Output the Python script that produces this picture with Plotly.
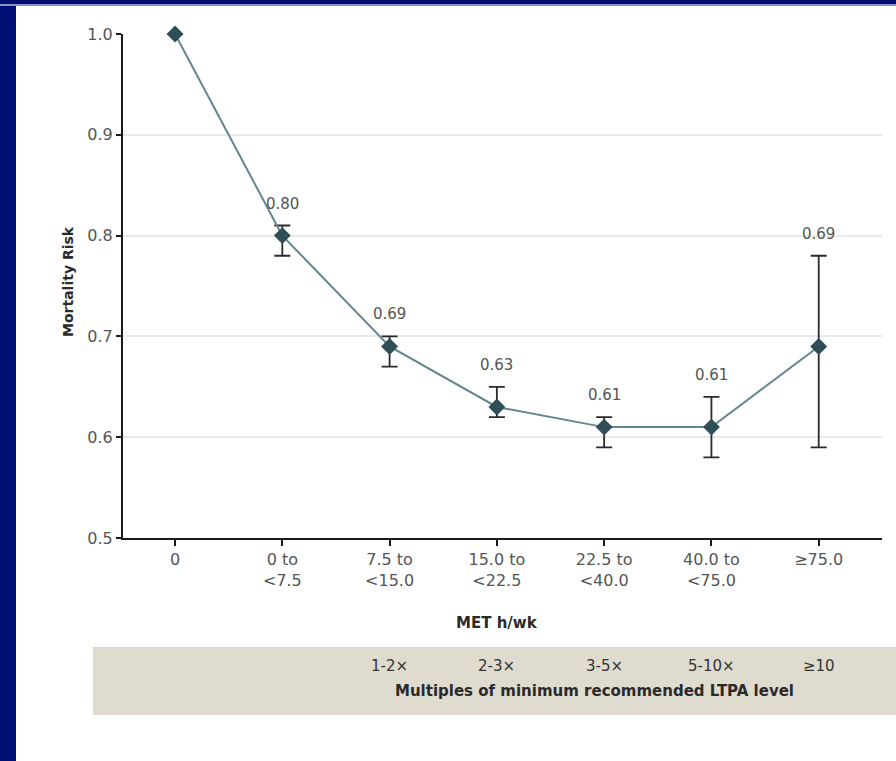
import plotly.graph_objects as go

# Leisure-time physical activity categories (MET h/wk) and relative mortality risk
met_bins = ["0", "0 to<br>&lt;7.5", "7.5 to<br>&lt;15.0", "15.0 to<br>&lt;22.5",
            "22.5 to<br>&lt;40.0", "40.0 to<br>&lt;75.0", "≥75.0"]
risk = [1.00, 0.80, 0.69, 0.63, 0.61, 0.61, 0.69]
ci_upper = [None, 0.81, 0.70, 0.65, 0.62, 0.64, 0.78]
ci_lower = [None, 0.78, 0.67, 0.62, 0.59, 0.58, 0.59]
multiples = ["", "", "1-2×", "2-3×", "3-5×", "5-10×", "≥10"]

W, H = 896, 761
NAVY = "#000f73"
FONT = "DejaVu Sans, Verdana, sans-serif"

err_plus = [None if u is None else round(u - r, 4) for u, r in zip(ci_upper, risk)]
err_minus = [None if l is None else round(r - l, 4) for l, r in zip(ci_lower, risk)]

fig = go.Figure()
fig.add_trace(go.Scatter(
    x=met_bins, y=risk, mode="lines+markers",
    line=dict(color="#638690", width=2),
    marker=dict(symbol="diamond", size=13, color="#2f4e58"),
    error_y=dict(type="data", symmetric=False, array=err_plus, arrayminus=err_minus,
                 color="#2b2b2b", thickness=1.8, width=8),
    cliponaxis=False, showlegend=False,
))

annotations = []
# value labels above each confidence interval
for cat, r, u in zip(met_bins, risk, ci_upper):
    if u is None:
        continue
    annotations.append(dict(x=cat, y=u, xref="x", yref="y", text=f"{r:.2f}",
                            showarrow=False, yshift=22,
                            font=dict(family=FONT, size=15, color="#555555")))

# multiples of the recommended minimum, in the shaded band
for cat, m in zip(met_bins, multiples):
    if not m:
        continue
    annotations.append(dict(x=cat, y=1 - 666 / H, xref="x", yref="paper", text=m,
                            showarrow=False, yanchor="middle",
                            font=dict(family=FONT, size=15, color="#333333")))

annotations += [
    dict(x=594 / W, y=1 - 691 / H, xref="paper", yref="paper", yanchor="middle",
         text="<b>Multiples of minimum recommended LTPA level</b>", showarrow=False,
         font=dict(family=FONT, size=15, color="#2a2a2a")),
    dict(x=497 / W, y=1 - 623 / H, xref="paper", yref="paper", yanchor="middle",
         text="<b>MET h/wk</b>", showarrow=False,
         font=dict(family=FONT, size=15, color="#2a2a2a")),
    dict(x=58 / W, y=1 - 282 / H, xref="paper", yref="paper", yanchor="middle",
         text="<b>Mortality Risk</b>", showarrow=False, textangle=-90,
         font=dict(family=FONT, size=14, color="#2a2a2a")),
]

shapes = [
    # shaded band behind the multiples row
    dict(type="rect", xref="paper", yref="paper", x0=93 / W, x1=1,
         y0=1 - 715 / H, y1=1 - 647 / H, fillcolor="#dfdbcf", line=dict(width=0),
         layer="below"),
    # slide frame
    dict(type="rect", xref="paper", yref="paper", x0=0, x1=16 / W, y0=0, y1=1,
         fillcolor=NAVY, line=dict(width=0)),
    dict(type="rect", xref="paper", yref="paper", x0=0, x1=1, y0=1 - 6 / H, y1=1 - 4 / H,
         fillcolor="#8a90c4", line=dict(width=0)),
    dict(type="rect", xref="paper", yref="paper", x0=0, x1=1, y0=1 - 4 / H, y1=1,
         fillcolor=NAVY, line=dict(width=0)),
]

fig.update_layout(
    width=W, height=H,
    margin=dict(l=0, r=0, t=0, b=0, autoexpand=False),
    paper_bgcolor="white", plot_bgcolor="white",
    annotations=annotations, shapes=shapes,
    xaxis=dict(
        domain=[123 / W, 882 / W], range=[-0.485, 6.59], automargin=False,
        showline=True, linecolor="#1a1a1a", linewidth=2,
        ticks="outside", ticklen=6, tickwidth=2, tickcolor="#1a1a1a",
        showgrid=False, zeroline=False,
        tickfont=dict(family=FONT, size=16, color="#555555"),
    ),
    yaxis=dict(
        domain=[1 - 538 / H, 1 - 34 / H], range=[0.5, 1.0], automargin=False,
        tickvals=[0.5, 0.6, 0.7, 0.8, 0.9, 1.0], tickformat=".1f",
        showline=True, linecolor="#1a1a1a", linewidth=2,
        ticks="outside", ticklen=5, tickwidth=2, tickcolor="#1a1a1a",
        showgrid=True, gridcolor="#e8e8e8", gridwidth=1.5, zeroline=False,
        tickfont=dict(family=FONT, size=16, color="#555555"),
    ),
)

fig.write_html("out.html")
